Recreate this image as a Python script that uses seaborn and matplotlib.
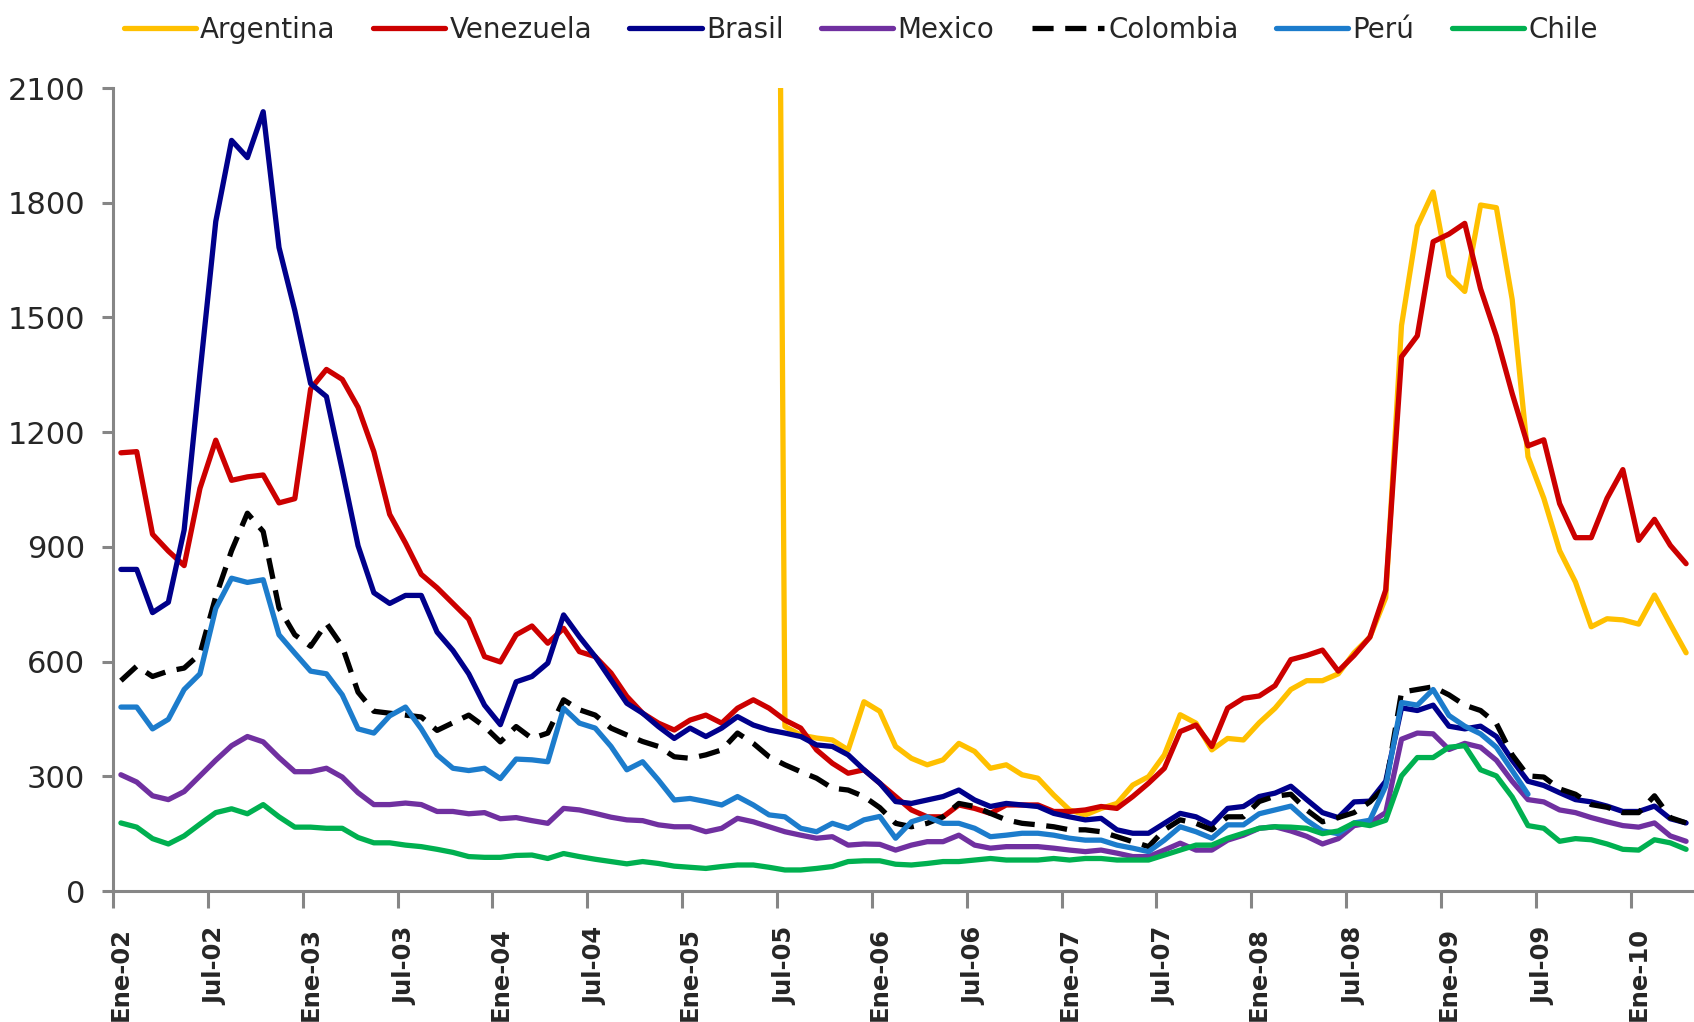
import numpy as np
import pandas as pd
import matplotlib
matplotlib.use("Agg")
import matplotlib.pyplot as plt
import seaborn as sns

nan = np.nan

# meses: Ene-02 ... Abr-10 (100 puntos mensuales)
labels = ["Ene-02", "Jul-02", "Ene-03", "Jul-03", "Ene-04", "Jul-04", "Ene-05", "Jul-05",
          "Ene-06", "Jul-06", "Ene-07", "Jul-07", "Ene-08", "Jul-08", "Ene-09", "Jul-09", "Ene-10"]

argentina = [nan] * 41 + [6500, 430, 408, 400, 395, 369, 495, 470, 378,
    347, 330, 343, 386, 365, 321, 330, 304, 295, 251, 212, 199, 216, 229, 277, 299, 356, 461,
    439, 369, 399, 395, 440, 478,
    527, 550, 550, 568, 623, 664, 767, 1479, 1739, 1828, 1609, 1568, 1794, 1787, 1547, 1136,
    1027, 890, 808, 691, 712, 709, 698, 774, 698, 623]

venezuela = [1146, 1149, 933, 889, 851, 1053, 1179, 1074, 1083, 1088, 1015, 1026, 1313, 1364,
    1338, 1265, 1149, 985, 910, 828, 793, 752, 711, 613, 599, 670,
    693, 648, 687, 626, 613, 570, 509, 465, 439, 421, 447, 460, 439, 478, 500, 478, 447, 426,
    369, 334, 308, 317, 282, 247,
    212, 194, 194, 225, 216, 203, 225, 225, 225, 208, 208, 212, 221, 216, 247, 282, 321, 417,
    434, 378, 478, 504, 510, 537,
    605, 616, 630, 575, 616, 664, 787, 1397, 1452, 1698, 1718, 1746, 1575, 1451, 1301, 1164,
    1180, 1013, 924, 924, 1027, 1102, 917, 972, 904, 856]

brasil = [841, 841, 728, 755, 944, 1354, 1751, 1963, 1918, 2038, 1683, 1518, 1327, 1293, 1101,
    903, 780, 752, 773, 773, 677, 629, 568, 486, 435, 547,
    561, 596, 722, 665, 613, 552, 491, 465, 430, 399, 426, 404, 426, 456, 434, 421, 413, 404,
    382, 378, 356, 317, 282, 234,
    229, 238, 247, 264, 238, 221, 229, 225, 221, 203, 194, 186, 190, 160, 151, 151, 177, 203,
    194, 173, 216, 221, 247, 256,
    274, 239, 205, 192, 233, 235, 287, 479, 472, 486, 431, 424, 431, 404, 342, 287, 276, 257,
    239, 233, 222, 208, 208, 222, 189, 178]

mexico = [304, 285, 249, 239, 260, 301, 342, 380, 404, 390, 349, 312, 312, 321, 298, 257, 226,
    226, 230, 226, 208, 208, 202, 205, 189, 192,
    184, 177, 216, 212, 203, 193, 186, 184, 173, 168, 168, 155, 164, 190, 181, 168, 155, 146,
    138, 142, 120, 123, 122, 107,
    120, 129, 129, 146, 120, 112, 116, 116, 116, 112, 107, 103, 107, 99, 90, 90, 107, 125, 107,
    107, 133, 146, 164, 168,
    157, 143, 123, 137, 171, 178, 205, 397, 413, 411, 370, 386, 376, 342, 287, 239, 233, 212,
    205, 192, 181, 171, 167, 178, 144, 130]

colombia = [550, 588, 561, 575, 583, 620, 770, 890, 988, 940, 740, 670, 640, 700, 640, 520, 470,
    465, 460, 455, 420, 440, 460, 430, 390, 430,
    399, 413, 500, 474, 460, 426, 408, 391, 378, 351, 347, 356, 369, 413, 386, 351, 330, 312,
    295, 269, 264, 247, 218, 177,
    168, 177, 194, 229, 221, 203, 186, 177, 173, 168, 160, 160, 155, 142, 129, 116, 160, 186,
    177, 160, 194, 194, 234, 248,
    253, 212, 181, 192, 205, 233, 274, 520, 527, 534, 513, 486, 472, 438, 356, 301, 298, 267,
    253, 226, 219, 205, 205, 249, 192, 178]

peru = [481, 481, 424, 449, 527, 568, 739, 818, 807, 814, 670, 622, 575, 568, 513, 424, 413,
    458, 481, 424, 356, 321, 315, 321, 294, 345,
    343, 338, 478, 439, 426, 378, 317, 338, 290, 238, 242, 234, 225, 247, 225, 199, 194, 164,
    155, 177, 164, 186, 195, 138,
    181, 194, 177, 177, 164, 142, 146, 151, 151, 146, 138, 133, 133, 120, 112, 103, 133, 168,
    155, 138, 173, 173, 202, 212,
    222, 185, 157, 150, 178, 185, 274, 493, 486, 527, 459, 431, 411, 376, 315, 253] + [nan] * 10

chile = [178, 167, 137, 123, 144, 175, 205, 215, 202, 226, 194, 167, 167, 164, 164, 140, 126,
    126, 120, 116, 109, 101, 90, 88, 88, 93,
    94, 85, 98, 90, 83, 77, 71, 77, 72, 65, 62, 59, 64, 68, 68, 62, 55, 55, 59, 64, 77, 79, 79, 70,
    68, 72, 77, 77, 81, 85, 81, 81, 81, 85, 81, 85, 85, 81, 81, 81, 94, 107, 120, 120, 138, 151,
    164, 168,
    167, 164, 150, 157, 178, 171, 185, 301, 349, 349, 376, 380, 317, 301, 246, 171, 164, 130,
    137, 134, 123, 109, 107, 134, 126, 109]

series = {
    "Argentina": argentina,
    "Venezuela": venezuela,
    "Brasil": brasil,
    "Mexico": mexico,
    "Colombia": colombia,
    "Perú": peru,
    "Chile": chile,
}
colores = {
    "Argentina": "#FFC000",
    "Venezuela": "#CC0000",
    "Brasil": "#00008B",
    "Mexico": "#7030A0",
    "Colombia": "#000000",
    "Perú": "#1C7CCC",
    "Chile": "#00B050",
}

n = len(brasil)
mes = np.arange(n)

sns.set_style("white")
plt.rcParams["font.family"] = ["DejaVu Sans"]

fig = plt.figure(figsize=(16.94, 10.22), dpi=100)
ax = fig.add_axes([113 / 1694, 1 - 891 / 1022, 1 - 113 / 1694, (891 - 88) / 1022])

for nombre, valores in series.items():
    df = pd.DataFrame({"mes": mes, "valor": valores})
    estilo = (0, (4, 2.2)) if nombre == "Colombia" else "-"
    sns.lineplot(data=df, x="mes", y="valor", ax=ax, color=colores[nombre], lw=3.8,
                 linestyle=estilo, label=nombre, solid_joinstyle="round")

ax.set_xlim(-0.5, n - 0.5)
ax.set_ylim(0, 2100)
ax.set_yticks(np.arange(0, 2101, 300))
ax.set_xticks(np.arange(-0.5, n, 6))
ax.set_xticklabels([])
ax.set_xticks(np.arange(0, n, 6), minor=True)
ax.set_xticklabels(labels, minor=True, rotation=90, ha="center", va="top",
                   fontsize=17.5, fontweight="bold")
ax.tick_params(axis="x", which="major", length=12, width=2.2, color="#868686", bottom=True)
ax.tick_params(axis="x", which="minor", length=0, pad=26)
ax.tick_params(axis="y", length=8, width=2.2, color="#868686", labelsize=22, pad=12, left=True)
ax.set_xlabel("")
ax.set_ylabel("")
for s in ["top", "right"]:
    ax.spines[s].set_visible(False)
for s in ["left", "bottom"]:
    ax.spines[s].set_color("#868686")
    ax.spines[s].set_linewidth(2.2)

h, l = ax.get_legend_handles_labels()
ax.get_legend().remove()
fig.legend(h, l, loc="center", bbox_to_anchor=(0.508, 0.971), ncol=7, frameon=False,
           fontsize=20, handlelength=2.6, handletextpad=0.15, columnspacing=1.35)

plt.savefig("out.png", dpi=100)
